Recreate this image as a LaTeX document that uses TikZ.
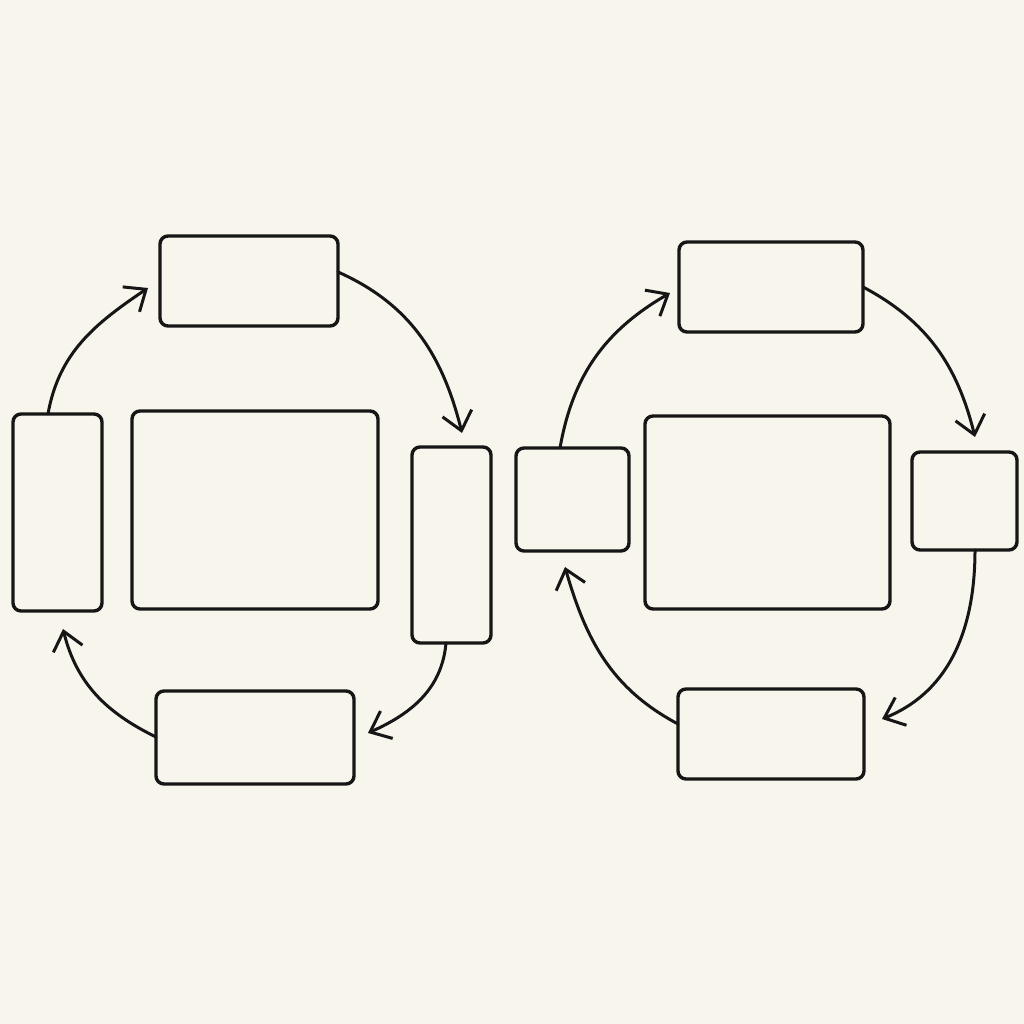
\documentclass[tikz,border=0pt]{standalone}
\usetikzlibrary{arrows.meta}
\definecolor{paper}{HTML}{F8F5EC}
\definecolor{ink}{HTML}{161616}
\begin{document}
\begin{tikzpicture}[x=1pt,y=1pt,
  box/.style={draw=ink, line width=3.4pt, rounded corners=8pt, inner sep=0pt, outer sep=0pt},
  flow/.style={draw=ink, line width=3pt, line cap=round,
    -{Straight Barb[length=18pt,width=30pt,line width=3pt]}}]
\fill[paper] (0,0) rectangle (1024,1024);
\useasboundingbox (0,0) rectangle (1024,1024);
% left cycle
\node[box, minimum width=178pt, minimum height=90pt] (lt) at (249,743) {};
\node[box, minimum width=89pt, minimum height=197pt] (ll) at (57.5,511.5) {};
\node[box, minimum width=246pt, minimum height=198pt] (lc) at (255,514) {};
\node[box, minimum width=79pt, minimum height=196pt] (lr) at (451.5,479) {};
\node[box, minimum width=198pt, minimum height=93pt] (lb) at (255,286.5) {};
% right cycle
\node[box, minimum width=184pt, minimum height=90pt] (rt) at (771,737) {};
\node[box, minimum width=113pt, minimum height=103pt] (rl) at (572.5,524.5) {};
\node[box, minimum width=245pt, minimum height=193pt] (rc) at (767.5,511.5) {};
\node[box, minimum width=105pt, minimum height=98pt] (rr) at (964.5,523) {};
\node[box, minimum width=186pt, minimum height=90pt] (rb) at (771,290) {};
% arrow tips
\coordinate (t1) at (148,736);
\coordinate (t2) at (462,591);
\coordinate (t3) at (368,291);
\coordinate (t4) at (63,395);
\coordinate (u1) at (670,731);
\coordinate (u2) at (975,587);
\coordinate (u3) at (882,305);
\coordinate (u4) at (565,457);
% left arrows
\draw[flow] ([xshift=-9.5pt]ll.north) to[out=80,in=214] (t1);
\draw[flow] ([yshift=9pt]lt.east) to[out=-24,in=104] (t2);
\draw[flow] ([xshift=-5.5pt]lr.south) to[out=-95,in=24] (t3);
\draw[flow] ([yshift=0.5pt]lb.west) to[out=154,in=-76] (t4);
% right arrows
\draw[flow] ([xshift=-12.5pt]rl.north) to[out=80,in=210] (u1);
\draw[flow] (rt.east) to[out=-28,in=104] (u2);
\draw[flow] ([xshift=10.5pt]rr.south) to[out=-90,in=22] (u3);
\draw[flow] ([yshift=10pt]rb.west) to[out=152,in=-74] (u4);
\end{tikzpicture}
\end{document}
